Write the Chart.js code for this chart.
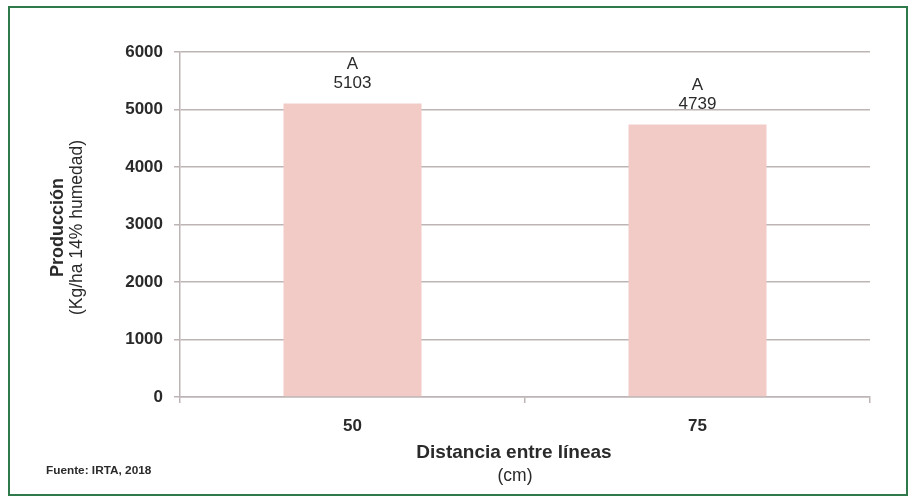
<!DOCTYPE html>
<html lang="es">
<head>
<meta charset="utf-8">
<title>Producción según distancia entre líneas</title>
<script src="https://cdn.jsdelivr.net/npm/chart.js@4.4.1/dist/chart.umd.min.js"></script>
<style>
  html, body { margin: 0; padding: 0; background: #ffffff; }
  #wrap { position: relative; width: 914px; height: 497px; }
  #frame {
    position: absolute; left: 8px; top: 6px; width: 896px; height: 486px;
    border: 2px solid #2f7a4a; pointer-events: none;
  }
  canvas { display: block; }
</style>
</head>
<body>
<div id="wrap">
  <canvas id="chart" width="914" height="497"></canvas>
  <div id="frame"></div>
</div>
<script>
// Row spacing (cm) and mean yield (kg/ha at 14% moisture)
const categories = ['50', '75'];
const produccion = [5103, 4739];
const grupos = ['A', 'A'];
const yTicks = [0, 1000, 2000, 3000, 4000, 5000, 6000];

const yTitle = ['Producción', '(Kg/ha 14% humedad)'];
const xTitle = ['Distancia entre líneas', '(cm)'];
const fuente = 'Fuente: IRTA, 2018';

const FONT = '"Liberation Sans", Arial, Helvetica, sans-serif';
const TEXT = '#2a2a2a';
const GRID = '#bdb5b5';

// Axis titles, source note and bar labels (letter + value)
const annotations = {
  id: 'annotations',
  afterDraw(chart) {
    const { ctx, chartArea } = chart;
    ctx.save();
    ctx.fillStyle = TEXT;
    ctx.textAlign = 'center';
    ctx.textBaseline = 'middle';

    // bar labels
    const meta = chart.getDatasetMeta(0);
    meta.data.forEach((bar, i) => {
      const top = bar.y;
      ctx.font = '17px ' + FONT;
      ctx.fillText(String(produccion[i]), bar.x, top - 20);
      ctx.fillText(grupos[i], bar.x, top - 39);
    });

    // y axis title (rotated)
    const cy = (chartArea.top + chartArea.bottom) / 2 + 3;
    ctx.save();
    ctx.translate(58, cy);
    ctx.rotate(-Math.PI / 2);
    ctx.font = 'bold 18px ' + FONT;
    ctx.fillText(yTitle[0], 0, 0);
    ctx.restore();
    ctx.save();
    ctx.translate(77, cy);
    ctx.rotate(-Math.PI / 2);
    ctx.font = '17.5px ' + FONT;
    ctx.fillText(yTitle[1], 0, 0);
    ctx.restore();

    // x axis title
    const cx = (chartArea.left + chartArea.right) / 2 - 11;
    ctx.font = 'bold 19px ' + FONT;
    ctx.fillText(xTitle[0], cx, 453);
    ctx.font = '17.5px ' + FONT;
    ctx.fillText(xTitle[1], cx + 1, 476);

    // source
    ctx.textAlign = 'left';
    ctx.font = 'bold 11.8px ' + FONT;
    ctx.fillText(fuente, 46, 471);
    ctx.restore();
  }
};

new Chart(document.getElementById('chart'), {
  type: 'bar',
  data: {
    labels: categories,
    datasets: [{
      data: produccion,
      backgroundColor: '#f2cbc7',
      borderWidth: 0,
      categoryPercentage: 0.4,
      barPercentage: 1.0
    }]
  },
  options: {
    responsive: false,
    animation: false,
    layout: { padding: { left: 0, right: 44, top: 52, bottom: 0 } },
    plugins: {
      legend: { display: false },
      tooltip: { enabled: false },
      title: { display: false }
    },
    scales: {
      x: {
        type: 'category',
        offset: true,
        grid: {
          offset: true,
          drawOnChartArea: false,
          drawTicks: true,
          tickLength: 6,
          color: GRID,
          lineWidth: 1.5
        },
        border: { display: true, color: GRID, width: 1.5 },
        ticks: {
          color: TEXT,
          font: { family: FONT, size: 17, weight: 'bold' },
          padding: 13,
          maxRotation: 0
        },
        afterFit(scale) { scale.height = 100; }
      },
      y: {
        min: 0,
        max: 6000,
        afterBuildTicks(scale) { scale.ticks = yTicks.map(v => ({ value: v })); },
        grid: {
          color: GRID,
          lineWidth: 1.5,
          drawTicks: true,
          tickLength: 6
        },
        border: { display: true, color: GRID, width: 1.5 },
        ticks: {
          color: TEXT,
          font: { family: FONT, size: 17, weight: 'bold' },
          padding: 11,
          callback: (v) => String(v)
        },
        afterFit(scale) { scale.width = 180; }
      }
    }
  },
  plugins: [annotations]
});
</script>
</body>
</html>
